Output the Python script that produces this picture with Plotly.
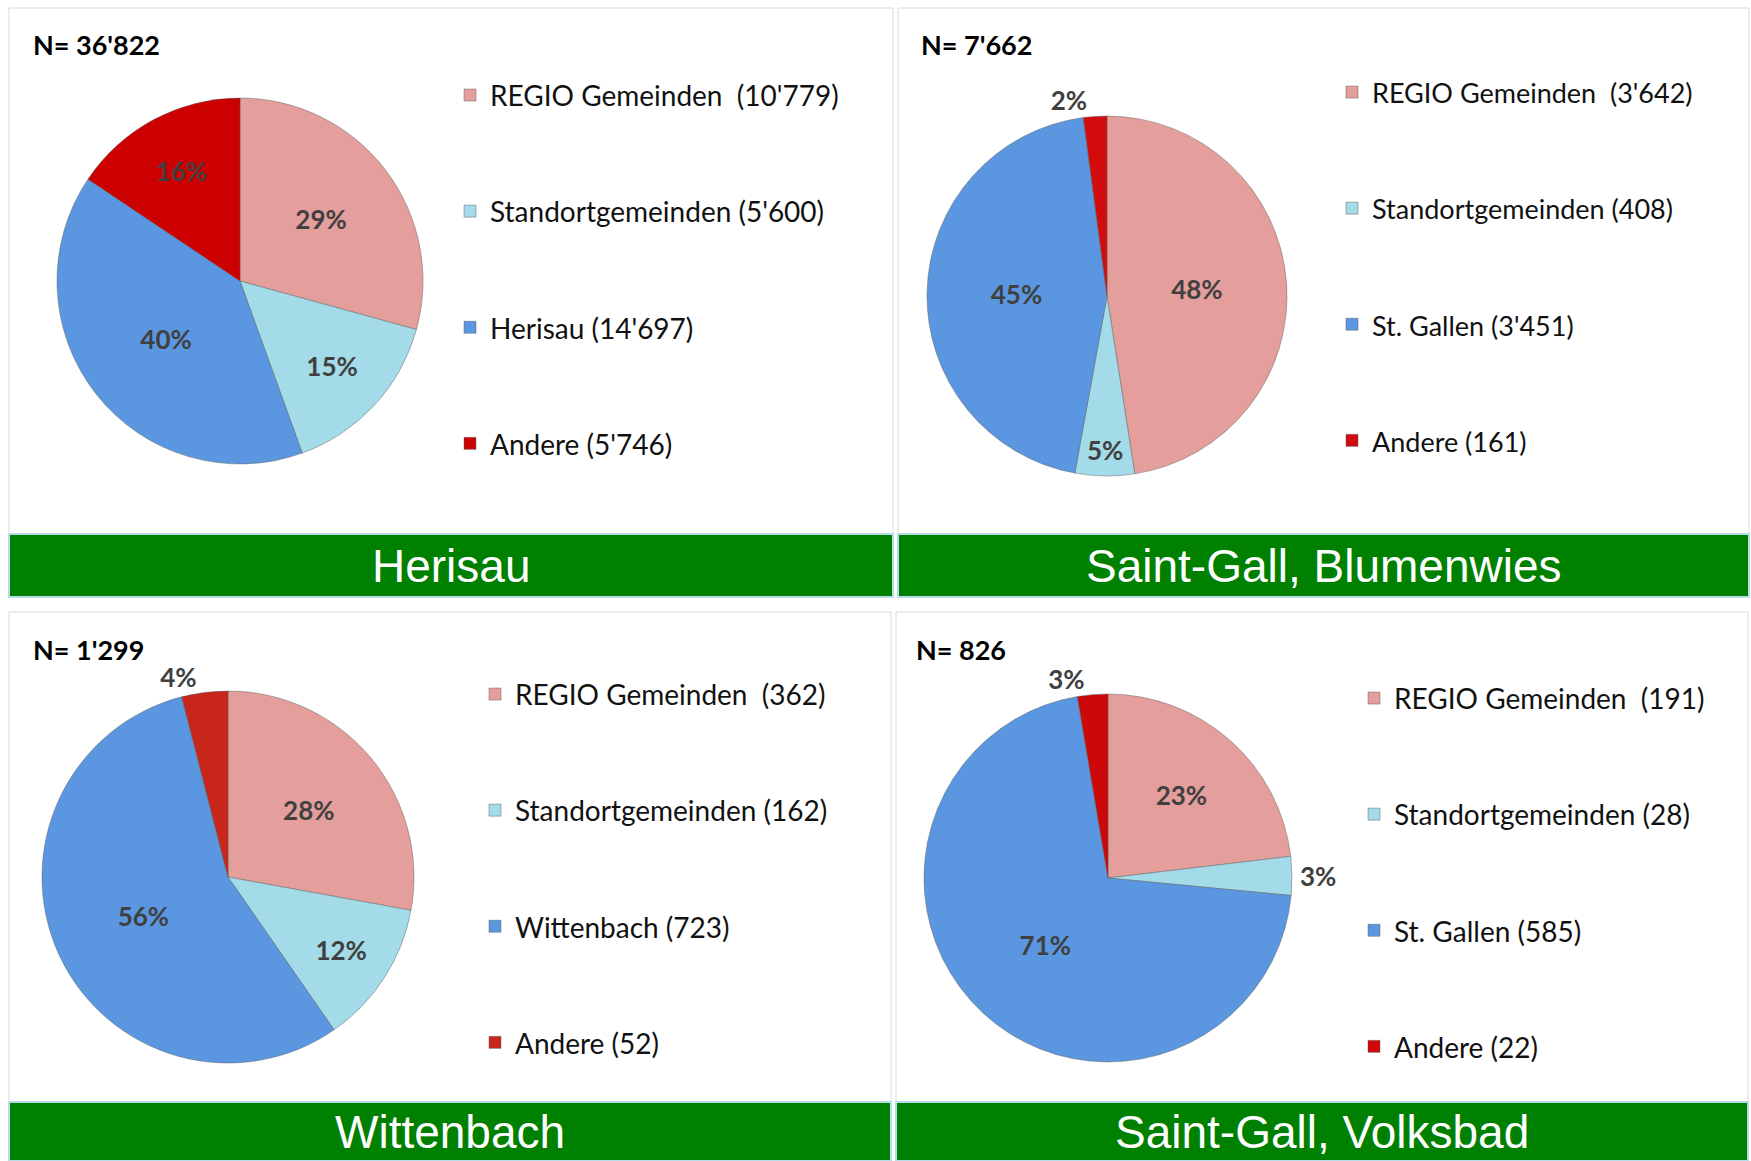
import plotly.graph_objects as go

W, H = 1751, 1161

# ---------------- data ----------------
site_titles = ["Herisau", "Saint-Gall, Blumenwies", "Wittenbach", "Saint-Gall, Volksbad"]
n_totals = [36822, 7662, 1299, 826]

categories_herisau = ["REGIO Gemeinden\u00a0", "Standortgemeinden", "Herisau", "Andere"]
values_herisau = [10779, 5600, 14697, 5746]

categories_blumenwies = ["REGIO Gemeinden\u00a0", "Standortgemeinden", "St. Gallen", "Andere"]
values_blumenwies = [3642, 408, 3451, 161]

categories_wittenbach = ["REGIO Gemeinden\u00a0", "Standortgemeinden", "Wittenbach", "Andere"]
values_wittenbach = [362, 162, 723, 52]

categories_volksbad = ["REGIO Gemeinden\u00a0", "Standortgemeinden", "St. Gallen", "Andere"]
values_volksbad = [191, 28, 585, 22]

# ---------------- styling / layout ----------------
pink, lblue, blue = "#E49E9C", "#A3DBE8", "#5B97E0"
reds = ["#CC0000", "#D20C0C", "#C8261A", "#CC0808"]
textpos = [
    ["inside", "inside", "inside", "inside"],
    ["inside", "inside", "inside", "outside"],
    ["inside", "inside", "inside", "outside"],
    ["inside", "outside", "inside", "outside"],
]
panels = [(9, 8, 893, 597), (898, 8, 1749, 597), (9, 612, 891, 1161), (896, 612, 1748, 1161)]
bar_tops = [534, 534, 1102, 1102]
pie_geo = [(240, 281, 183), (1107, 296, 180), (228, 877, 186), (1108, 878, 184)]
legend_pos = [(450, 32), (1332, 29), (475, 631), (1354, 635)]   # (left, top) px
legend_text_px = [28, 27, 28, 28]
n_pos = [(31, 45), (919, 44), (31, 649), (914, 649)]

all_cats = [categories_herisau, categories_blumenwies, categories_wittenbach, categories_volksbad]
all_vals = [values_herisau, values_blumenwies, values_wittenbach, values_volksbad]


def fmt(v):
    return f"{v:,}".replace(",", "'")


fig = go.Figure()
leg_names = ["legend", "legend2", "legend3", "legend4"]

for i in range(4):
    cats, vals = all_cats[i], all_vals[i]
    labels = [
        "\u00a0<br><span style='font-size:%dpx'>" % legend_text_px[i] + c + " (" + fmt(v) + ")</span><br>\u00a0"
        for c, v in zip(cats, vals)
    ]
    cx, cy, r = pie_geo[i]
    fig.add_trace(go.Pie(
        labels=labels,
        values=vals,
        sort=False,
        direction="clockwise",
        rotation=0,
        marker=dict(colors=[pink, lblue, blue, reds[i]],
                    line=dict(color="rgba(90,90,90,0.45)", width=1)),
        texttemplate="%{percent:.0%}",
        textposition=textpos[i],
        insidetextorientation="horizontal",
        textfont=dict(family="Lato", size=26, color="#404040", weight="bold"),
        domain=dict(x=[(cx - r) / W, (cx + r) / W], y=[1 - (cy + r) / H, 1 - (cy - r) / H]),
        legend=leg_names[i],
        showlegend=True,
        hoverinfo="label+value+percent",
    ))

shapes = []
annotations = []
for i in range(4):
    x0, y0, x1, y1 = panels[i]
    shapes.append(dict(type="rect", xref="paper", yref="paper",
                       x0=x0 / W, x1=x1 / W, y0=1 - y1 / H, y1=1 - y0 / H,
                       line=dict(color="#D9D9D9", width=1), fillcolor="white", layer="below"))
    shapes.append(dict(type="rect", xref="paper", yref="paper",
                       x0=x0 / W, x1=x1 / W, y0=1 - y1 / H, y1=1 - bar_tops[i] / H,
                       line=dict(color="#B7DEE8", width=2), fillcolor="#008000", layer="below"))
    annotations.append(dict(xref="paper", yref="paper", x=(x0 + x1) / 2 / W,
                            y=1 - (bar_tops[i] + y1) / 2 / H,
                            text=site_titles[i], showarrow=False,
                            xanchor="center", yanchor="middle",
                            font=dict(family="Liberation Sans", size=46, color="white")))
    nx, ny = n_pos[i]
    annotations.append(dict(xref="paper", yref="paper", x=nx / W, y=1 - ny / H,
                            text="<b>N= " + fmt(n_totals[i]) + "</b>", showarrow=False,
                            xanchor="left", yanchor="middle",
                            font=dict(family="Lato", size=27, color="black")))

layout_legends = {}
for i in range(4):
    lx, ly = legend_pos[i]
    layout_legends[leg_names[i]] = dict(
        x=lx / W, y=1 - ly / H, xanchor="left", yanchor="top",
        font=dict(family="Lato", size=29, color="#111111"),
        bgcolor="rgba(0,0,0,0)", borderwidth=0, itemclick=False,
    )

fig.update_layout(
    width=W, height=H,
    margin=dict(l=0, r=0, t=0, b=0),
    paper_bgcolor="white",
    plot_bgcolor="white",
    shapes=shapes,
    annotations=annotations,
    uniformtext=dict(minsize=26, mode="show"),
    **layout_legends,
)

fig.write_html("out.html", config={"displayModeBar": False},
               post_script="document.body.style.margin='0px';")
